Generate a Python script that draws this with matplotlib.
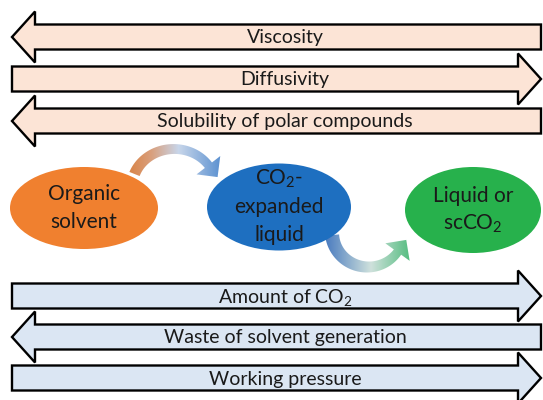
import numpy as np
import matplotlib
matplotlib.use("Agg")
import matplotlib.pyplot as plt
from matplotlib.patches import Polygon, Ellipse
from matplotlib.colors import LinearSegmentedColormap

plt.rcParams['font.family'] = ['Lato', 'DejaVu Sans']
plt.rcParams['mathtext.fontset'] = 'custom'
plt.rcParams['mathtext.rm'] = 'Lato'
plt.rcParams['mathtext.it'] = 'Lato:italic'

# property trends (direction: -1 points left, 1 points right)
top_labels = ['Viscosity', 'Diffusivity', 'Solubility of polar compounds']
top_dirs = [-1, 1, -1]
bottom_labels = ['Amount of CO$_2$', 'Waste of solvent generation', 'Working pressure']
bottom_dirs = [1, -1, 1]

# solvent stages
stage_lines = [['Organic', 'solvent'],
               ['CO$_2$-', 'expanded', 'liquid'],
               ['Liquid or', 'scCO$_2$']]
stage_colors = ['#f0802f', '#1e6fc0', '#27b14c']

top_y = [37, 79, 121]
bottom_y = [296, 337, 378]
stage_xy = [(84, 208), (279, 207), (473, 210)]
stage_wh = [(148, 82), (144, 87), (136, 86)]

fig = plt.figure(figsize=(5.43, 4.0), dpi=100)
ax = fig.add_axes([0, 0, 1, 1])


def block_arrow(yc, direction, color, label):
    x0, x1 = 12, 541
    hl, bh, hh = 23, 12.5, 25.5
    if direction < 0:
        pts = [(x0, yc), (x0 + hl, yc - hh), (x0 + hl, yc - bh), (x1, yc - bh),
               (x1, yc + bh), (x0 + hl, yc + bh), (x0 + hl, yc + hh)]
    else:
        pts = [(x1, yc), (x1 - hl, yc - hh), (x1 - hl, yc - bh), (x0, yc - bh),
               (x0, yc + bh), (x1 - hl, yc + bh), (x1 - hl, yc + hh)]
    ax.add_patch(Polygon(pts, closed=True, fc=color, ec='black', lw=1.7,
                         joinstyle='miter', zorder=2))
    ax.text(285, yc + 1, label, ha='center', va='center', fontsize=14,
            color='#1a1a1a', zorder=3)


def curved_arrow(cx, cy, rx, ry, th0, th1, w0, w1, head_hw, head_len, colors, xr):
    th = np.radians(np.linspace(th0, th1, 80))
    c = np.column_stack([cx + rx * np.cos(th), cy - ry * np.sin(th)])
    s = np.sign(th1 - th0)
    t = np.column_stack([-rx * np.sin(th), -ry * np.cos(th)]) * s
    t /= np.linalg.norm(t, axis=1)[:, None]
    n = np.column_stack([-t[:, 1], t[:, 0]])
    w = np.linspace(w0, w1, len(th))[:, None] / 2
    left = c + n * w
    right = c - n * w
    e, te, ne = c[-1], t[-1], n[-1]
    head = [e + ne * head_hw, e + te * head_len, e - ne * head_hw]
    pts = np.vstack([left, head, right[::-1]])
    patch = Polygon(pts, closed=True, fc='none', ec='none', zorder=1)
    ax.add_patch(patch)
    cmap = LinearSegmentedColormap.from_list('g', colors)
    img = cmap(np.linspace(0, 1, 256))[None, :, :]
    im = ax.imshow(img, extent=[xr[0], xr[1], 300, 130], aspect='auto', zorder=1)
    im.set_clip_path(patch)


curved_arrow(174, 187, 42, 38, 160, 35, 11, 9, 15, 15,
             [(0, '#d9803f'), (0.25, '#d9a07e'), (0.5, '#c8d6ea'), (1, '#3f7fca')],
             (125, 232))
curved_arrow(368, 232, 36, 35, 185, 325, 14, 9, 15, 15,
             [(0, '#3a6fbc'), (0.5, '#cfe1dc'), (1, '#30b264')], (320, 422))

for yc, d, lab in zip(top_y, top_dirs, top_labels):
    block_arrow(yc, d, '#fce4d6', lab)
for yc, d, lab in zip(bottom_y, bottom_dirs, bottom_labels):
    block_arrow(yc, d, '#dbe6f3', lab)

for (x, y), (w, h), col, lines in zip(stage_xy, stage_wh, stage_colors, stage_lines):
    ax.add_patch(Ellipse((x, y), w, h, fc=col, ec='none', zorder=2))
    n = len(lines)
    for i, ln in enumerate(lines):
        ax.text(x, y + (i - (n - 1) / 2) * 28, ln, ha='center', va='center',
                fontsize=15, color='#1a1a1a', zorder=3)

ax.set_xlim(0, 543)
ax.set_ylim(400, 0)
ax.axis('off')
fig.savefig('out.png', dpi=100)
